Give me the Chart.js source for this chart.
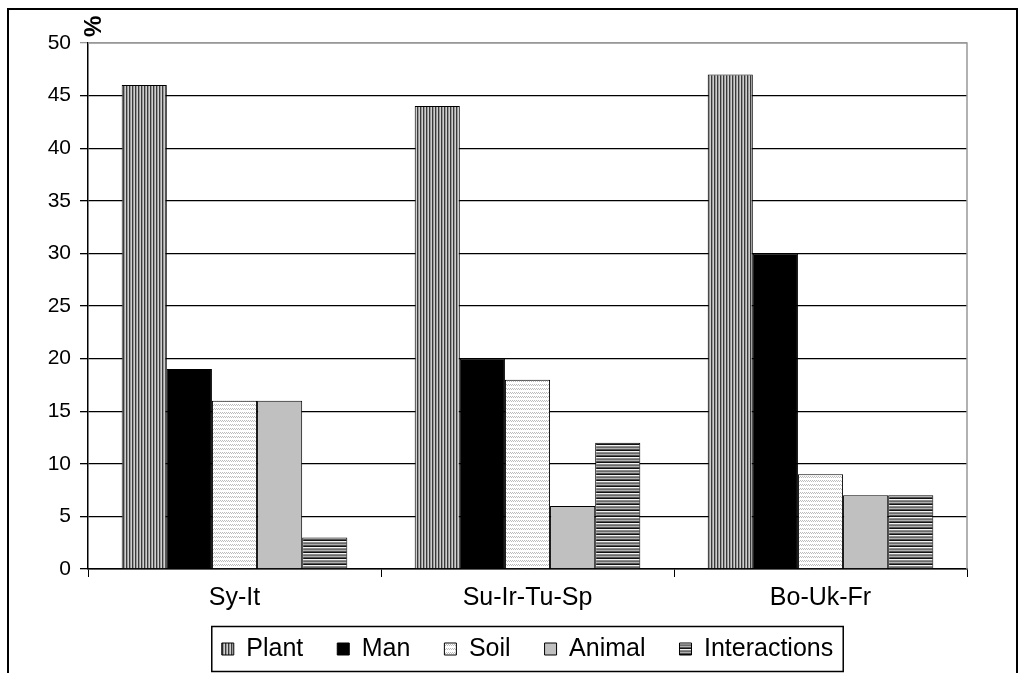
<!DOCTYPE html>
<html lang="en">
<head>
    <meta charset="UTF-8"/>
    <title>Shares by region</title>
    <script src="https://cdn.jsdelivr.net/npm/chart.js@4.4.1/dist/chart.umd.min.js"></script>
    <style>
        html, body { margin: 0; padding: 0; background: #fff; }
        #wrap { width: 1020px; height: 673px; }
    </style>
</head>
<body>
<div id="wrap"><canvas id="chart" width="1020" height="673"></canvas></div>
<script>
    // data
    const categories = ['Sy-It', 'Su-Ir-Tu-Sp', 'Bo-Uk-Fr'];
    const seriesNames = ['Plant', 'Man', 'Soil', 'Animal', 'Interactions'];
    const plant = [46, 44, 47];
    const man = [19, 20, 30];
    const soil = [16, 18, 9];
    const animal = [16, 6, 7];
    const interactions = [3, 12, 7];
    const yMin = 0, yMax = 50, yStep = 5;
    const yUnit = '%';

    const FONT = "'Liberation Sans', Arial, sans-serif";

    // fill patterns like the old office chart
    function makePattern(w, h, paint) {
        const c = document.createElement('canvas');
        c.width = w; c.height = h;
        const g = c.getContext('2d');
        paint(g);
        return g.createPattern(c, 'repeat');
    }
    const ctx0 = document.getElementById('chart').getContext('2d');

    const plantFill = makePattern(3, 1, g => {
        ['#3a3a3a', '#9a9a9a', '#cfcfcf'].forEach((col, i) => { g.fillStyle = col; g.fillRect(i, 0, 1, 1); });
    });
    const soilFill = makePattern(4, 4, g => {
        g.fillStyle = '#fff'; g.fillRect(0, 0, 4, 4);
        g.fillStyle = '#bdbdbd';
        g.fillRect(0, 0, 1, 1); g.fillRect(2, 0, 1, 1);
        g.fillRect(1, 1, 1, 1); g.fillRect(3, 1, 1, 1);
    });
    const interFill = makePattern(1, 6, g => {
        ['#111', '#f4f4f4', '#8a8a8a', '#6a6a6a', '#b0b0b0', '#555'].forEach((col, i) => { g.fillStyle = col; g.fillRect(0, i, 1, 1); });
    });
    const fills = [plantFill, '#000000', soilFill, '#c0c0c0', interFill];
    const values = [plant, man, soil, animal, interactions];

    // frame, plot border, "%" label, legend box
    const decor = {
        id: 'decor',
        afterLayout(chart) {
            // pull the legend up a bit so the category labels get room
            const lg = chart.legend;
            if (lg) { lg.top -= 12.5; lg.bottom -= 12.5; }
        },
        beforeDraw(chart) {
            const c = chart.ctx;
            c.save();
            c.fillStyle = '#fff';
            c.fillRect(0, 0, chart.width, chart.height);
            c.strokeStyle = '#000';
            c.lineWidth = 2;
            c.strokeRect(8, 9, 1009, 700);
            c.restore();
        },
        afterDatasetsDraw(chart) {
            const a = chart.chartArea;
            const c = chart.ctx;
            c.save();
            c.strokeStyle = '#999';
            c.lineWidth = 1.5;
            c.beginPath();
            c.moveTo(a.left, a.top);
            c.lineTo(a.right, a.top);
            c.lineTo(a.right, a.bottom);
            c.stroke();
            c.translate(a.left + 6, a.top - 6);
            c.rotate(-Math.PI / 2);
            c.fillStyle = '#000';
            c.font = 'bold 24px ' + FONT;
            c.textAlign = 'left';
            c.textBaseline = 'middle';
            c.fillText(yUnit, 0, 0);
            c.restore();
        },
        afterDraw(chart) {
            const boxes = chart.legend.legendHitBoxes;
            if (!boxes || !boxes.length) return;
            const left = boxes[0].left - 10;
            const right = boxes[boxes.length - 1].left + boxes[boxes.length - 1].width + 10;
            const top = boxes[0].top - 10;
            const bottom = boxes[0].top + boxes[0].height + 10;
            const c = chart.ctx;
            c.save();
            c.strokeStyle = '#000';
            c.lineWidth = 1.5;
            c.strokeRect(left, top, right - left, bottom - top);
            c.restore();
        }
    };

    new Chart(ctx0, {
        type: 'bar',
        data: {
            labels: categories,
            datasets: seriesNames.map((name, i) => ({
                label: name,
                data: values[i],
                backgroundColor: fills[i],
                borderColor: '#000',
                borderWidth: 1,
                barPercentage: 1,
                categoryPercentage: 0.77
            }))
        },
        options: {
            responsive: false,
            animation: false,
            layout: { padding: { top: 43, right: 53, left: 0, bottom: -11 } },
            plugins: {
                tooltip: { enabled: false },
                legend: {
                    position: 'bottom',
                    fullSize: false,
                    labels: {
                        color: '#000',
                        font: { family: FONT, size: 25 },
                        boxWidth: 12,
                        boxHeight: 12,
                        padding: 34
                    }
                }
            },
            scales: {
                x: {
                    grid: { display: true, drawOnChartArea: false, tickLength: 8, color: '#000', offset: true },
                    border: { color: '#000', width: 1.5 },
                    ticks: { color: '#000', font: { family: FONT, size: 25 }, padding: 6 },
                    afterFit(s) { s.height = 46; }
                },
                y: {
                    min: yMin,
                    max: yMax,
                    grid: {
                        color: ctx => ctx.tick && ctx.tick.value === yMax ? '#999' : '#000',
                        lineWidth: 1.3,
                        tickLength: 8
                    },
                    border: { color: '#000', width: 1.5 },
                    ticks: { stepSize: yStep, color: '#000', font: { family: FONT, size: 21 }, padding: 9 },
                    afterFit(s) { s.width = 88; }
                }
            }
        },
        plugins: [decor]
    });
</script>
</body>
</html>
